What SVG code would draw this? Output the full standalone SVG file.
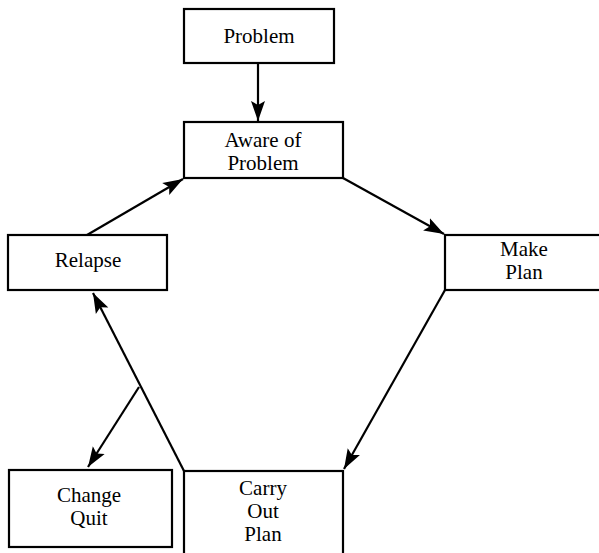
<svg xmlns="http://www.w3.org/2000/svg" width="599" height="553" viewBox="0 0 599 553">
<defs>
<style>
.box{fill:#fff;stroke:#000;stroke-width:2.2}
.lbl{font-family:"Liberation Serif","Times New Roman",serif;font-size:21px;fill:#000;text-anchor:middle}
.edge{fill:none;stroke:#000;stroke-width:2.2}
</style>
<marker id="ah" markerUnits="userSpaceOnUse" markerWidth="22" markerHeight="16" refX="20" refY="7" orient="auto" viewBox="0 0 22 14">
<path d="M0,0 L20,7 L0,14 L4,7 z" fill="#000"/>
</marker>
</defs>
<rect width="599" height="553" fill="#fff"/>
<g id="connectors">
<line class="edge" x1="258" y1="63" x2="258" y2="121" marker-end="url(#ah)"/>
<line class="edge" x1="343" y1="178" x2="444" y2="234" marker-end="url(#ah)"/>
<line class="edge" x1="445" y1="290" x2="344" y2="469" marker-end="url(#ah)"/>
<line class="edge" x1="184" y1="471" x2="93" y2="293" marker-end="url(#ah)"/>
<line class="edge" x1="87" y1="235" x2="183" y2="179" marker-end="url(#ah)"/>
<line class="edge" x1="139" y1="387" x2="88" y2="467" marker-end="url(#ah)"/>
</g>
<g id="problem">
<rect class="box" x="184" y="9" width="150" height="54"/>
<text class="lbl" x="259" y="43">Problem</text>
</g>
<g id="aware">
<rect class="box" x="184" y="122" width="159" height="56"/>
<text class="lbl" x="263" y="147">Aware of</text>
<text class="lbl" x="263" y="170">Problem</text>
</g>
<g id="make-plan">
<rect class="box" x="445" y="235" width="170" height="55"/>
<text class="lbl" x="524" y="256">Make</text>
<text class="lbl" x="524" y="279">Plan</text>
</g>
<g id="carry-out-plan">
<rect class="box" x="184" y="471" width="159" height="90"/>
<text class="lbl" x="263" y="495">Carry</text>
<text class="lbl" x="263" y="518">Out</text>
<text class="lbl" x="263" y="541">Plan</text>
</g>
<g id="relapse">
<rect class="box" x="8" y="235" width="159" height="55"/>
<text class="lbl" x="88" y="267">Relapse</text>
</g>
<g id="change-quit">
<rect class="box" x="9" y="470" width="163" height="77"/>
<text class="lbl" x="89" y="502">Change</text>
<text class="lbl" x="89" y="525">Quit</text>
</g>
</svg>
